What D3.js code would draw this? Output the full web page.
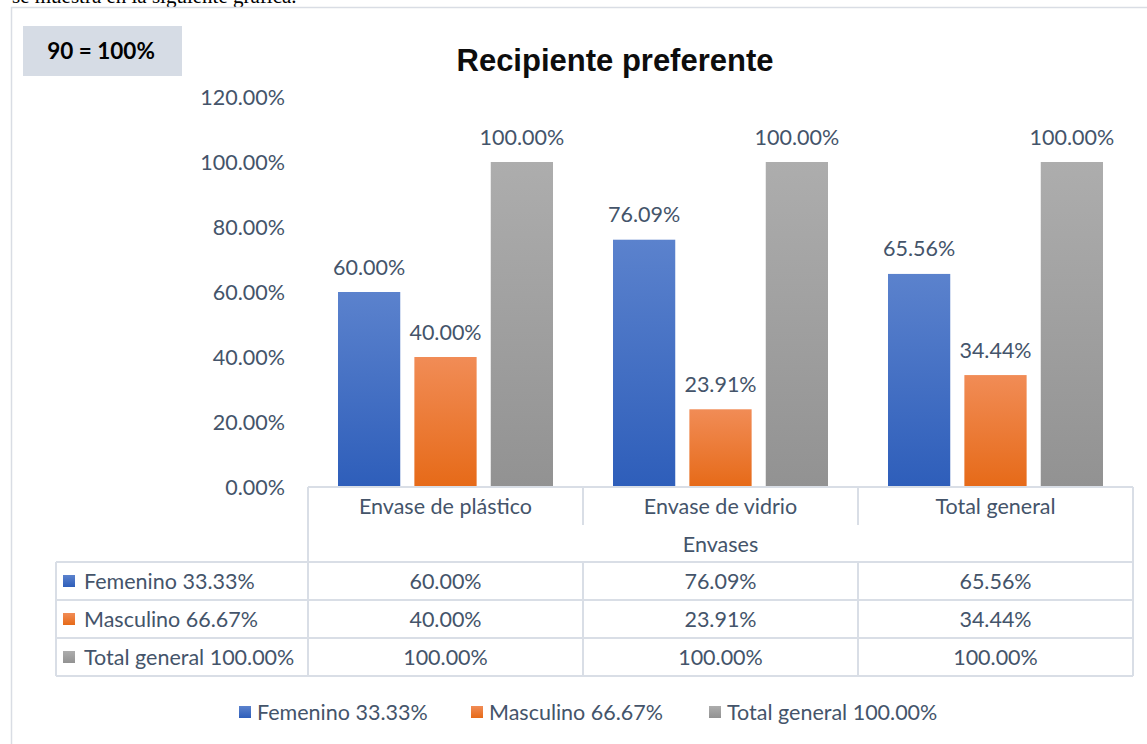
<!DOCTYPE html>
<html>
<head>
<meta charset="utf-8">
<script src="https://cdn.jsdelivr.net/npm/d3@7"></script>
<style>
  html, body { margin: 0; padding: 0; background: #fff; }
  svg { display: block; }
</style>
</head>
<body>
<svg id="chart" width="1147" height="744"></svg>
<script>
// ---- data ----
const categories = ["Envase de plástico", "Envase de vidrio", "Total general"];
const seriesNames = ["Femenino 33.33%", "Masculino 66.67%", "Total general 100.00%"];
const femenino = [60.00, 76.09, 65.56];
const masculino = [40.00, 23.91, 34.44];
const totalGeneral = [100.00, 100.00, 100.00];
const yTicks = [0, 20, 40, 60, 80, 100, 120];
const chartTitle = "Recipiente preferente";
const axisTitle = "Envases";
const noteText = "90 = 100%";

const seriesValues = [femenino, masculino, totalGeneral];
const gradients = [
  ["#5b82cd", "#2e5eba"],
  ["#f18c56", "#e66a18"],
  ["#adadad", "#929292"]
];

const FONT = "Lato, 'Open Sans', sans-serif";
const FS = 21.5;
const TXT = "#44546a";
const LINE = "#d9dee6";

const svg = d3.select("#chart");
const defs = svg.append("defs");
gradients.forEach((g, i) => {
  const lg = defs.append("linearGradient")
    .attr("id", "grad" + i).attr("x1", 0).attr("y1", 0).attr("x2", 0).attr("y2", 1);
  lg.append("stop").attr("offset", "0%").attr("stop-color", g[0]);
  lg.append("stop").attr("offset", "100%").attr("stop-color", g[1]);
});

// preceding document line, partly cut at the top edge
svg.append("text")
  .attr("x", 12).attr("y", 3)
  .attr("font-family", "'Liberation Serif', 'Times New Roman', serif")
  .attr("font-size", 21).attr("fill", "#000")
  .text("se muestra en la siguiente gráfica.");

// chart frame
svg.append("path")
  .attr("d", "M11.5,744 V7.5 H1147")
  .attr("fill", "none").attr("stroke", "#d9dde4").attr("stroke-width", 1.5);

// note box
svg.append("rect").attr("x", 23).attr("y", 26).attr("width", 159).attr("height", 50)
  .attr("fill", "#d6dce5");
svg.append("text").attr("x", 101).attr("y", 51).attr("dy", "0.35em").attr("text-anchor", "middle")
  .attr("font-family", FONT).attr("font-weight", "bold").attr("font-size", 22.5)
  .attr("fill", "#000").text(noteText);

// title
svg.append("text").attr("x", 615).attr("y", 71).attr("text-anchor", "middle")
  .attr("font-family", "'Liberation Sans', Arial, sans-serif").attr("font-weight", "bold")
  .attr("font-size", 31).attr("fill", "#0d0d0d").text(chartTitle);

// scales
const plotLeft = 308, plotRight = 1133;
const x0 = d3.scaleBand().domain(categories).range([plotLeft, plotRight]).paddingInner(0).paddingOuter(0);
const x1 = d3.scaleBand().domain(d3.range(seriesNames.length)).range([30, x0.bandwidth() - 30]).paddingInner(0.185);
const y = d3.scaleLinear().domain([0, 120]).range([487, 97]);

// y axis labels
const yAxis = d3.axisLeft(y).tickValues(yTicks).tickSize(0).tickPadding(0)
  .tickFormat(d => d.toFixed(2) + "%");
const yg = svg.append("g").attr("transform", "translate(285,0)").call(yAxis);
yg.select(".domain").remove();
yg.selectAll("text").attr("font-family", FONT).attr("font-size", FS).attr("fill", TXT)
  .attr("dy", "0.35em");

// bars
const groups = svg.append("g").selectAll("g").data(categories).join("g")
  .attr("transform", d => `translate(${x0(d)},0)`);
groups.each(function(cat, ci) {
  const g = d3.select(this);
  seriesValues.forEach((vals, si) => {
    const v = vals[ci];
    g.append("rect")
      .attr("x", x1(si)).attr("width", x1.bandwidth())
      .attr("y", y(v)).attr("height", y(0) - y(v))
      .attr("fill", `url(#grad${si})`);
    g.append("text")
      .attr("x", x1(si) + x1.bandwidth() / 2).attr("y", y(v) - 25)
      .attr("dy", "0.35em")
      .attr("text-anchor", "middle").attr("font-family", FONT).attr("font-size", FS)
      .attr("fill", TXT).text(v.toFixed(2) + "%");
  });
});

// data table
const tbl = svg.append("g").attr("stroke", LINE).attr("stroke-width", 2).attr("fill", "none");
const rowTop = 487, catRowBottom = 525, titleRowBottom = 562, rowH = 38;
const tableLeft = 56;
const rowsBottom = titleRowBottom + rowH * seriesNames.length;
// axis line / table top
tbl.append("line").attr("x1", plotLeft).attr("x2", plotRight).attr("y1", rowTop).attr("y2", rowTop);
// outer verticals of header
tbl.append("line").attr("x1", plotLeft).attr("x2", plotLeft).attr("y1", rowTop).attr("y2", rowsBottom);
tbl.append("line").attr("x1", plotRight).attr("x2", plotRight).attr("y1", rowTop).attr("y2", rowsBottom);
// category separators
categories.slice(1).forEach(c => {
  tbl.append("line").attr("x1", x0(c)).attr("x2", x0(c)).attr("y1", rowTop).attr("y2", catRowBottom);
  tbl.append("line").attr("x1", x0(c)).attr("x2", x0(c)).attr("y1", titleRowBottom).attr("y2", rowsBottom);
});
// series rows
d3.range(seriesNames.length + 1).forEach(i => {
  const yy = titleRowBottom + i * rowH;
  tbl.append("line").attr("x1", tableLeft).attr("x2", plotRight).attr("y1", yy).attr("y2", yy);
});
tbl.append("line").attr("x1", tableLeft).attr("x2", tableLeft).attr("y1", titleRowBottom).attr("y2", rowsBottom);

// category labels
svg.append("g").selectAll("text").data(categories).join("text")
  .attr("x", d => x0(d) + x0.bandwidth() / 2).attr("y", (rowTop + catRowBottom) / 2)
  .attr("dy", "0.35em").attr("text-anchor", "middle")
  .attr("font-family", FONT).attr("font-size", FS).attr("fill", TXT).text(d => d);
// axis title
svg.append("text").attr("x", (plotLeft + plotRight) / 2).attr("y", (catRowBottom + titleRowBottom) / 2 + 1)
  .attr("dy", "0.35em").attr("text-anchor", "middle")
  .attr("font-family", FONT).attr("font-size", FS).attr("fill", TXT).text(axisTitle);

// rows
seriesNames.forEach((name, si) => {
  const cy = titleRowBottom + si * rowH + rowH / 2;
  svg.append("rect").attr("x", 63).attr("y", cy - 6).attr("width", 12).attr("height", 12)
    .attr("fill", `url(#grad${si})`);
  svg.append("text").attr("x", 84).attr("y", cy).attr("dy", "0.35em")
    .attr("font-family", FONT).attr("font-size", FS).attr("fill", TXT).text(name);
  categories.forEach((c, ci) => {
    svg.append("text").attr("x", x0(c) + x0.bandwidth() / 2).attr("y", cy).attr("dy", "0.35em")
      .attr("text-anchor", "middle").attr("font-family", FONT).attr("font-size", FS)
      .attr("fill", TXT).text(seriesValues[si][ci].toFixed(2) + "%");
  });
});

// legend
const legendX = [239, 471, 709];
const ly = 712;
seriesNames.forEach((name, si) => {
  svg.append("rect").attr("x", legendX[si]).attr("y", ly - 6).attr("width", 12).attr("height", 12)
    .attr("fill", `url(#grad${si})`);
  svg.append("text").attr("x", legendX[si] + 18).attr("y", ly).attr("dy", "0.35em")
    .attr("font-family", FONT).attr("font-size", FS).attr("fill", TXT).text(name);
});
</script>
</body>
</html>
